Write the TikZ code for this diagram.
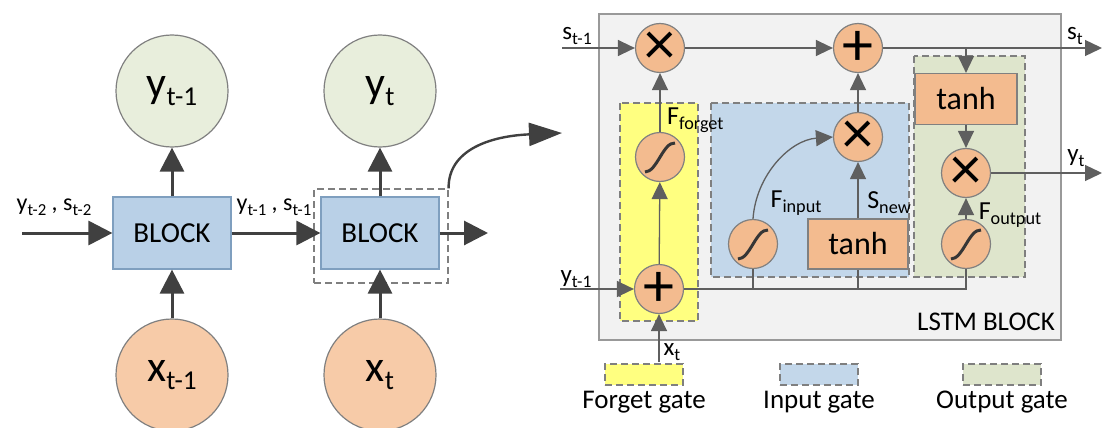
\documentclass[tikz,border=0pt]{standalone}
\usepackage{fontspec}
\setmainfont{Carlito}
\usetikzlibrary{arrows.meta,positioning}

\definecolor{ygreen}{HTML}{E8EEDC}
\definecolor{xorange}{HTML}{F7CBA8}
\definecolor{blkblue}{HTML}{B9D0E7}
\definecolor{blkline}{HTML}{7F9FBF}
\definecolor{oporange}{HTML}{F3BB8F}
\definecolor{fgyellow}{HTML}{FFFF80}
\definecolor{igblue}{HTML}{C3D7EA}
\definecolor{oggreen}{HTML}{DEE5CC}
\definecolor{lstmgray}{HTML}{F2F2F2}
\definecolor{darkline}{HTML}{404040}
\definecolor{linegray}{HTML}{5F5F5F}
\definecolor{dashgray}{HTML}{7F7F7F}

\newcommand{\ix}[3][0.7]{#2\raisebox{-0.2em}{\scalebox{#1}{#3}}}

\begin{document}
\begin{tikzpicture}[x=1pt,y=-1pt,
  txt/.style={font=\fontsize{#1}{#1}\selectfont,inner sep=0pt},
  bigarr/.style={line width=3pt,draw=darkline,-{Triangle[length=24pt,width=24pt]}},
  arr/.style={line width=1.3pt,draw=linegray,-{Triangle[length=17pt,width=16pt]}},
  wire/.style={line width=1.3pt,draw=linegray},
  bigc/.style={circle,draw=gray,line width=1.2pt,minimum size=112pt,inner sep=0pt,font=\fontsize{44}{44}\selectfont},
  blk/.style={rectangle,draw=blkline,line width=1.2pt,fill=blkblue,minimum width=118pt,minimum height=72pt,font=\fontsize{29}{29}\selectfont},
  op/.style={circle,draw=gray,line width=1.2pt,fill=oporange,minimum size=49pt,inner sep=0pt},
  sym/.style={font=\fontsize{62}{62}\selectfont},
  fn/.style={rectangle,draw=gray,line width=1.2pt,fill=oporange,minimum width=100pt,minimum height=50pt,font=\fontsize{32}{32}\selectfont},
  gate/.style={draw=dashgray,line width=1.2pt,dash pattern=on 7pt off 4pt},
  sig/.style={line width=3pt,draw=darkline!85!black}]
\useasboundingbox (0,0) rectangle (1103,428);
% unrolled chain
\node[bigc,fill=ygreen] (yc1) at (172,91) {\ix[0.62]{y}{t-1}};
\node[bigc,fill=ygreen] (yc2) at (380,91) {\ix[0.62]{y}{t}};
\node[blk] (blk1) at (172,233) {BLOCK};
\node[blk] (blk2) at (380,233) {BLOCK};
\node[bigc,fill=xorange] (xc1) at (172,375) {\ix[0.62]{x}{t-1}};
\node[bigc,fill=xorange] (xc2) at (380,375) {\ix[0.62]{x}{t}};
\node[gate,minimum width=134pt,minimum height=94pt] (frame) at (381,236) {};
\coordinate (lin) at (22,233);
\coordinate (lout) at (488,233);
\coordinate (ztip) at (562,133);
\draw[bigarr] (lin) -- (blk1);
\draw[bigarr] (blk1) -- (blk2);
\draw[bigarr] (blk2) -- (lout);
\foreach \i in {1,2}{
  \draw[bigarr] (blk\i) -- (yc\i);
  \draw[bigarr] (xc\i) -- (blk\i);
}
\draw[line width=2.4pt,draw=darkline,-{Triangle[length=33pt,width=23pt]}] (frame.north east) .. controls (448,150) and (490,136) .. (ztip);
\node[txt=24] (lab1) at (54,207) {\ix{y}{t-2} , \ix{s}{t-2}};
\node[txt=24] (lab2) at (274,207) {\ix{y}{t-1} , \ix{s}{t-1}};
% lstm block
\draw[draw=gray!80,line width=2pt,fill=lstmgray] (599,14) rectangle (1061,340);
\node[txt=27] (lstmlab) at (986,322) {LSTM BLOCK};
\draw[gate,fill=fgyellow] (620,103) rectangle (698,321);
\draw[gate,fill=igblue] (711,103) rectangle (909,277);
\draw[gate,fill=oggreen] (914,56) rectangle (1025,277);
\node[op,label={[sym]center:×}] (mulf) at (660,48) {};
\node[op,label={[sym]center:+}] (addt) at (858,48) {};
\node[op,label={[sym]center:×}] (muli) at (858,137) {};
\node[op,label={[sym]center:×}] (mulo) at (966,173) {};
\node[op,label={[sym]center:+}] (addb) at (659,289) {};
\node[op] (sigf) at (660,157) {};
\node[op] (sigi) at (753,244) {};
\node[op] (sigo) at (966,244) {};
\node[fn,minimum width=102pt,minimum height=51pt] (tanho) at (966,99) {tanh};
\node[fn] (tanhi) at (858,244) {tanh};
\foreach \n in {sigf,sigi,sigo}
  \draw[sig] ([shift={(-15,15)}]\n.center) .. controls ([shift={(-3,15)}]\n.center) and ([shift={(3,-15)}]\n.center) .. ([shift={(15,-14)}]\n.center);
\coordinate (sin) at (562,48);
\coordinate (sout) at (1102,48);
\coordinate (yin) at (560,289);
\coordinate (yout) at (1102,173);
\coordinate (xin) at (659,362);
\draw[arr] (sin) -- (mulf);
\draw[arr] (mulf) -- (addt);
\draw[arr] (addt) -- (sout);
\draw[arr] (tanho.north |- addt) -- (tanho);
\draw[arr] (tanho) -- (mulo);
\draw[arr] (sigo) -- (mulo);
\draw[arr] (mulo) -- (yout);
\draw[arr] (muli) -- (addt);
\draw[arr] (tanhi) -- (muli);
\draw[arr] (sigi.north) .. controls (756,175) and (790,140) .. (muli.west);
\draw[arr] (sigf) -- (mulf);
\draw[arr] (addb) -- (sigf);
\draw[arr] (yin) -- (addb);
\draw[arr] (xin) -- (addb);
\draw[wire] (addb) -- (sigo.south |- addb) -- (sigo);
\draw[wire] (sigi.south |- addb) -- (sigi);
\draw[wire] (tanhi.south |- addb) -- (tanhi);
\node[txt=25] (lsin) at (577,36) {\ix{s}{t-1}};
\node[txt=25] (lsout) at (1075,36) {\ix{s}{t}};
\node[txt=25] (lyout) at (1076,158) {\ix{y}{t}};
\node[txt=25] (lyin) at (576,279) {\ix{y}{t-1}};
\node[txt=25] (lxin) at (672,352) {\ix{x}{t}};
\node[txt=26,anchor=west] (lff) at (667,120) {\ix{F}{forget}};
\node[txt=26] (lfi) at (796,203) {\ix{F}{input}};
\node[txt=26] (lsn) at (889,203) {\ix{S}{new}};
\node[txt=26] (lfo) at (1010,215) {\ix{F}{output}};
% legend
\node[gate,fill=fgyellow,minimum width=78pt,minimum height=21pt] (lgf) at (644,374.5) {};
\node[gate,fill=igblue,minimum width=78pt,minimum height=21pt] (lgi) at (819,374.5) {};
\node[gate,fill=oggreen,minimum width=78pt,minimum height=21pt] (lgo) at (1002,374.5) {};
\node[txt=27,below=5pt of lgf] (lgft) {Forget gate};
\node[txt=27,below=5pt of lgi] (lgit) {Input gate};
\node[txt=27,below=5pt of lgo] (lgot) {Output gate};
\end{tikzpicture}
\end{document}
